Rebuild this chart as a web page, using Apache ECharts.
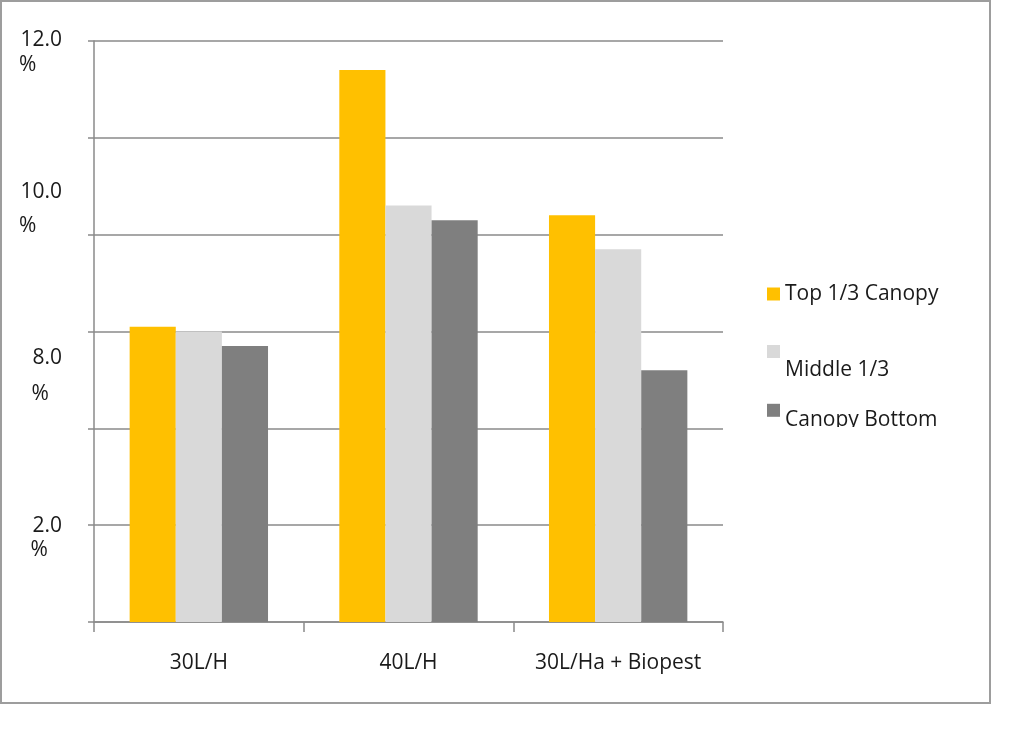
<!DOCTYPE html>
<html>
<head>
<meta charset="utf-8">
<script src="https://cdn.jsdelivr.net/npm/echarts@6/dist/echarts.min.js"></script>
<style>
html,body{margin:0;padding:0;background:#fff;}
#main{width:1024px;height:743px;}
</style>
</head>
<body>
<div id="main"></div>
<script>
var categories = ['30L/H', '40L/H', '30L/Ha + Biopest'];
var seriesNames = ['Top 1/3 Canopy', 'Middle 1/3', 'Canopy Bottom'];
var topCanopy = [6.1, 11.4, 8.4];
var middleCanopy = [6.0, 8.6, 7.7];
var bottomCanopy = [5.7, 8.3, 5.2];
var yTickNumbers = ['12.0', '10.0', '8.0', '2.0'];
var yTickUnit = '%';

// layout only (pixel positions of the odd y labels in the reference)
var yLabelLayout = [
  {right: 62, numY: 40, unitX: 19, unitY: 65.5},
  {right: 62, numY: 192.5, unitX: 19, unitY: 226.5},
  {right: 62, numY: 358, unitX: 31.5, unitY: 394},
  {right: 62, numY: 526, unitX: 30.5, unitY: 550.5}
];

var FONT = '"Open Sans", "Liberation Sans", sans-serif';
var colors = ['#FFC000', '#D9D9D9', '#7F7F7F'];
var axisGray = '#8a8a8a';

var graphics = [
  {type: 'rect', shape: {x: 1, y: 1, width: 989, height: 702},
   style: {fill: 'none', stroke: '#9d9d9d', lineWidth: 2}, z: 0, silent: true}
];
yTickNumbers.forEach(function (t, i) {
  var L = yLabelLayout[i];
  graphics.push({type: 'text', x: L.right, y: L.numY, z: 10,
    style: {text: t, font: '21px ' + FONT, fill: '#1a1a1a', textAlign: 'right', textVerticalAlign: 'middle'}});
  graphics.push({type: 'text', x: L.unitX, y: L.unitY, z: 10,
    style: {text: yTickUnit, font: '21px ' + FONT, fill: '#1a1a1a', textAlign: 'left', textVerticalAlign: 'middle'}});
});
// clip the bottom of the last legend entry as in the reference
graphics.push({type: 'rect', shape: {x: 760, y: 427, width: 226, height: 16},
  style: {fill: '#ffffff'}, z: 200, silent: true});

function legendAt(name, top, dropLine) {
  return {
    data: [name], left: 767, top: top, padding: 0,
    orient: 'vertical', icon: 'rect', itemWidth: 13, itemHeight: 13,
    selectedMode: false,
    formatter: function (n) { return dropLine ? '\n' + n : n; },
    textStyle: {fontFamily: FONT, fontSize: 21, color: '#1a1a1a', lineHeight: dropLine || 21}
  };
}

var chart = echarts.init(document.getElementById('main'), null, {renderer: 'canvas'});
chart.setOption({
  animation: false,
  backgroundColor: '#ffffff',
  grid: {left: 94, right: 301, top: 41, bottom: 121},
  legend: [
    legendAt(seriesNames[0], 283.5, 0),
    legendAt(seriesNames[1], 314.5, 37),
    legendAt(seriesNames[2], 389.8, 20)
  ],
  xAxis: {
    type: 'category',
    data: categories,
    axisLine: {lineStyle: {color: axisGray, width: 1.5}},
    axisTick: {show: true, length: 10, lineStyle: {color: axisGray, width: 1.5}},
    axisLabel: {interval: 0, margin: 31, fontFamily: FONT, fontSize: 21, color: '#1a1a1a', lineHeight: 21}
  },
  yAxis: {
    type: 'value', min: 0, max: 12, interval: 2,
    axisLine: {show: true, lineStyle: {color: axisGray, width: 1.5}},
    axisTick: {show: true, length: 6, lineStyle: {color: axisGray, width: 1.5}},
    axisLabel: {show: false},
    splitLine: {show: true, lineStyle: {color: axisGray, width: 1.5}}
  },
  series: [
    {name: seriesNames[0], type: 'bar', data: topCanopy, itemStyle: {color: colors[0]},
     barGap: '0%', barCategoryGap: '34%'},
    {name: seriesNames[1], type: 'bar', data: middleCanopy, itemStyle: {color: colors[1]},
     barGap: '0%', barCategoryGap: '34%'},
    {name: seriesNames[2], type: 'bar', data: bottomCanopy, itemStyle: {color: colors[2]},
     barGap: '0%', barCategoryGap: '34%'}
  ],
  graphic: graphics
});
</script>
</body>
</html>
